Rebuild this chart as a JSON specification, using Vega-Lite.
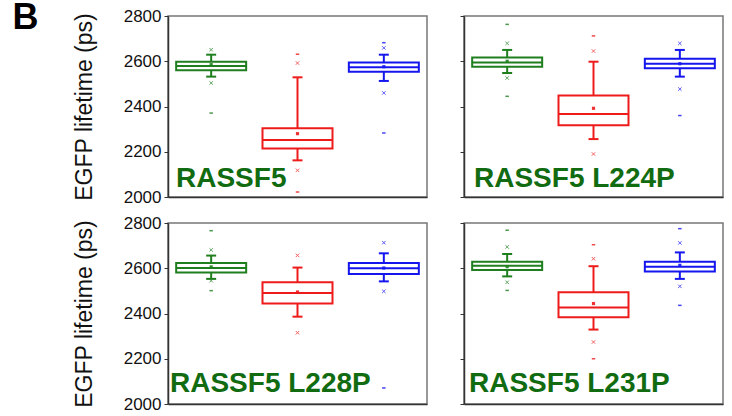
{
  "$schema": "https://vega.github.io/schema/vega-lite/v6.json",
  "background": "white",
  "padding": {"left": 12, "top": 0, "right": 5, "bottom": 5},
  "config": {
    "font": "Liberation Sans",
    "view": {"stroke": "#777", "strokeWidth": 1.5},
    "tick": {"opacity": 1},
    "axisY": {"domainColor": "#333", "tickColor": "#333", "tickSize": 4, "grid": false, "labelFontSize": 17, "labelColor": "#111", "labelPadding": 3, "titleFontSize": 23, "titleFontWeight": "normal", "titleColor": "#111", "titlePadding": 27, "domainWidth": 1.5},
    "axisX": {"domainColor": "#333", "domainWidth": 1.5, "ticks": false, "labels": false, "title": null, "grid": false}
  },
  "title": {"text": "B", "anchor": "start", "frame": "bounds", "fontSize": 36, "fontWeight": "bold", "color": "#000", "offset": -31, "dx": -60},
  "datasets": {
    "boxes": [
      {"panel": "RASSF5", "group": "ctrl1", "lo": 2532, "q1": 2560, "median": 2579, "q3": 2598, "hi": 2629, "mean": 2585, "p1": 2504, "p99": 2651, "min": 2371, "max": null},
      {"panel": "RASSF5", "group": "test", "lo": 2162, "q1": 2214, "median": 2252, "q3": 2304, "hi": 2529, "mean": 2280, "p1": 2118, "p99": 2592, "min": 2022, "max": 2631},
      {"panel": "RASSF5", "group": "ctrl2", "lo": 2513, "q1": 2554, "median": 2573, "q3": 2595, "hi": 2629, "mean": 2576, "p1": 2460, "p99": 2659, "min": 2283, "max": 2682},
      {"panel": "RASSF5 L224P", "group": "ctrl1", "lo": 2548, "q1": 2576, "median": 2594, "q3": 2617, "hi": 2650, "mean": 2600, "p1": 2526, "p99": 2679, "min": 2445, "max": 2763},
      {"panel": "RASSF5 L224P", "group": "test", "lo": 2256, "q1": 2317, "median": 2367, "q3": 2449, "hi": 2598, "mean": 2392, "p1": 2190, "p99": 2645, "min": null, "max": 2712},
      {"panel": "RASSF5 L224P", "group": "ctrl2", "lo": 2532, "q1": 2569, "median": 2589, "q3": 2611, "hi": 2650, "mean": 2589, "p1": 2477, "p99": 2679, "min": 2360, "max": null},
      {"panel": "RASSF5 L228P", "group": "ctrl1", "lo": 2553, "q1": 2581, "median": 2601, "q3": 2623, "hi": 2656, "mean": 2606, "p1": 2545, "p99": 2681, "min": 2501, "max": 2766},
      {"panel": "RASSF5 L228P", "group": "test", "lo": 2386, "q1": 2444, "median": 2491, "q3": 2538, "hi": 2603, "mean": 2495, "p1": 2315, "p99": 2657, "min": null, "max": null},
      {"panel": "RASSF5 L228P", "group": "ctrl2", "lo": 2542, "q1": 2575, "median": 2600, "q3": 2623, "hi": 2666, "mean": 2601, "p1": 2498, "p99": 2713, "min": 2071, "max": null},
      {"panel": "RASSF5 L231P", "group": "ctrl1", "lo": 2564, "q1": 2592, "median": 2611, "q3": 2629, "hi": 2663, "mean": 2607, "p1": 2538, "p99": 2694, "min": 2502, "max": 2768},
      {"panel": "RASSF5 L231P", "group": "test", "lo": 2329, "q1": 2383, "median": 2427, "q3": 2494, "hi": 2609, "mean": 2444, "p1": 2274, "p99": 2642, "min": 2200, "max": 2704},
      {"panel": "RASSF5 L231P", "group": "ctrl2", "lo": 2553, "q1": 2586, "median": 2607, "q3": 2629, "hi": 2670, "mean": 2613, "p1": 2520, "p99": 2712, "min": 2436, "max": 2775}
    ],
    "labels": [
      {"panel": "RASSF5", "label": "RASSF5"},
      {"panel": "RASSF5 L224P", "label": "RASSF5 L224P"},
      {"panel": "RASSF5 L228P", "label": "RASSF5 L228P"},
      {"panel": "RASSF5 L231P", "label": "RASSF5 L231P"}
    ]
  },
  "concat": [
    {
      "width": 259, "height": 181,
      "layer": [
        {"data": {"name": "boxes"}, "transform": [{"filter": "datum.panel == 'RASSF5'"}],
         "layer": [
          {"mark": {"type": "rule", "strokeWidth": 2}, "encoding": {"x": {"field": "group", "type": "nominal", "sort": ["ctrl1", "test", "ctrl2"], "scale": {"paddingInner": 0, "paddingOuter": 0}}, "y": {"field": "lo", "type": "quantitative", "title": "EGFP lifetime (ps)", "scale": {"domain": [2000, 2800], "nice": false, "zero": false}, "axis": {"values": [2000, 2100, 2200, 2300, 2400, 2500, 2600, 2700, 2800], "labelExpr": "datum.value % 200 == 0 ? datum.value : ''"}}, "y2": {"field": "hi"}, "color": {"field": "group", "type": "nominal", "scale": {"domain": ["ctrl1", "test", "ctrl2"], "range": ["#1f7f1f", "#ee1b1b", "#1515ee"]}, "legend": null}}},
          {"mark": {"type": "bar", "fill": "white", "strokeWidth": 2, "width": 70}, "encoding": {"x": {"field": "group", "type": "nominal", "sort": ["ctrl1", "test", "ctrl2"]}, "y": {"field": "q1", "type": "quantitative", "title": "EGFP lifetime (ps)"}, "y2": {"field": "q3"}, "stroke": {"field": "group", "type": "nominal", "scale": {"domain": ["ctrl1", "test", "ctrl2"], "range": ["#1f7f1f", "#ee1b1b", "#1515ee"]}, "legend": null}}},
          {"mark": {"type": "tick", "thickness": 2, "size": 70, "opacity": 1}, "encoding": {"x": {"field": "group", "type": "nominal", "sort": ["ctrl1", "test", "ctrl2"]}, "y": {"field": "median", "type": "quantitative", "title": "EGFP lifetime (ps)"}, "color": {"field": "group", "type": "nominal", "legend": null}}},
          {"mark": {"type": "tick", "thickness": 2, "size": 10, "opacity": 1}, "encoding": {"x": {"field": "group", "type": "nominal", "sort": ["ctrl1", "test", "ctrl2"]}, "y": {"field": "lo", "type": "quantitative", "title": "EGFP lifetime (ps)"}, "color": {"field": "group", "type": "nominal", "legend": null}}},
          {"mark": {"type": "tick", "thickness": 2, "size": 10, "opacity": 1}, "encoding": {"x": {"field": "group", "type": "nominal", "sort": ["ctrl1", "test", "ctrl2"]}, "y": {"field": "hi", "type": "quantitative", "title": "EGFP lifetime (ps)"}, "color": {"field": "group", "type": "nominal", "legend": null}}},
          {"mark": {"type": "point", "shape": "square", "filled": true, "size": 10, "opacity": 0.9}, "encoding": {"x": {"field": "group", "type": "nominal", "sort": ["ctrl1", "test", "ctrl2"]}, "y": {"field": "mean", "type": "quantitative", "title": "EGFP lifetime (ps)"}, "color": {"field": "group", "type": "nominal", "legend": null}}},
          {"mark": {"type": "point", "shape": "M-1,-1L1,1M-1,1L1,-1", "size": 12, "strokeWidth": 1, "opacity": 0.7}, "encoding": {"x": {"field": "group", "type": "nominal", "sort": ["ctrl1", "test", "ctrl2"]}, "y": {"field": "p1", "type": "quantitative", "title": "EGFP lifetime (ps)"}, "color": {"field": "group", "type": "nominal", "legend": null}}},
          {"mark": {"type": "point", "shape": "M-1,-1L1,1M-1,1L1,-1", "size": 12, "strokeWidth": 1, "opacity": 0.7}, "encoding": {"x": {"field": "group", "type": "nominal", "sort": ["ctrl1", "test", "ctrl2"]}, "y": {"field": "p99", "type": "quantitative", "title": "EGFP lifetime (ps)"}, "color": {"field": "group", "type": "nominal", "legend": null}}},
          {"mark": {"type": "point", "shape": "stroke", "size": 12, "strokeWidth": 1.5, "opacity": 0.8}, "encoding": {"x": {"field": "group", "type": "nominal", "sort": ["ctrl1", "test", "ctrl2"]}, "y": {"field": "min", "type": "quantitative", "title": "EGFP lifetime (ps)"}, "color": {"field": "group", "type": "nominal", "legend": null}}},
          {"mark": {"type": "point", "shape": "stroke", "size": 12, "strokeWidth": 1.5, "opacity": 0.8}, "encoding": {"x": {"field": "group", "type": "nominal", "sort": ["ctrl1", "test", "ctrl2"]}, "y": {"field": "max", "type": "quantitative", "title": "EGFP lifetime (ps)"}, "color": {"field": "group", "type": "nominal", "legend": null}}}
         ]},
        {"data": {"name": "labels"}, "transform": [{"filter": "datum.panel == 'RASSF5'"}],
         "mark": {"type": "text", "align": "left", "baseline": "alphabetic", "fontSize": 28, "fontWeight": "bold", "color": "#116b11", "dx": 8},
         "encoding": {"x": {"datum": "ctrl1", "bandPosition": 0}, "y": {"datum": 2045, "title": "EGFP lifetime (ps)"}, "text": {"field": "label"}}}
      ]
    },
    {
      "width": 259, "height": 181,
      "layer": [
        {"data": {"name": "boxes"}, "transform": [{"filter": "datum.panel == 'RASSF5 L224P'"}],
         "layer": [
          {"mark": {"type": "rule", "strokeWidth": 2}, "encoding": {"x": {"field": "group", "type": "nominal", "sort": ["ctrl1", "test", "ctrl2"], "scale": {"paddingInner": 0, "paddingOuter": 0}}, "y": {"field": "lo", "type": "quantitative", "title": null, "scale": {"domain": [2000, 2800], "nice": false, "zero": false}, "axis": {"values": [2000, 2100, 2200, 2300, 2400, 2500, 2600, 2700, 2800], "labels": false}}, "y2": {"field": "hi"}, "color": {"field": "group", "type": "nominal", "scale": {"domain": ["ctrl1", "test", "ctrl2"], "range": ["#1f7f1f", "#ee1b1b", "#1515ee"]}, "legend": null}}},
          {"mark": {"type": "bar", "fill": "white", "strokeWidth": 2, "width": 70}, "encoding": {"x": {"field": "group", "type": "nominal", "sort": ["ctrl1", "test", "ctrl2"]}, "y": {"field": "q1", "type": "quantitative", "title": null}, "y2": {"field": "q3"}, "stroke": {"field": "group", "type": "nominal", "scale": {"domain": ["ctrl1", "test", "ctrl2"], "range": ["#1f7f1f", "#ee1b1b", "#1515ee"]}, "legend": null}}},
          {"mark": {"type": "tick", "thickness": 2, "size": 70, "opacity": 1}, "encoding": {"x": {"field": "group", "type": "nominal", "sort": ["ctrl1", "test", "ctrl2"]}, "y": {"field": "median", "type": "quantitative", "title": null}, "color": {"field": "group", "type": "nominal", "legend": null}}},
          {"mark": {"type": "tick", "thickness": 2, "size": 10, "opacity": 1}, "encoding": {"x": {"field": "group", "type": "nominal", "sort": ["ctrl1", "test", "ctrl2"]}, "y": {"field": "lo", "type": "quantitative", "title": null}, "color": {"field": "group", "type": "nominal", "legend": null}}},
          {"mark": {"type": "tick", "thickness": 2, "size": 10, "opacity": 1}, "encoding": {"x": {"field": "group", "type": "nominal", "sort": ["ctrl1", "test", "ctrl2"]}, "y": {"field": "hi", "type": "quantitative", "title": null}, "color": {"field": "group", "type": "nominal", "legend": null}}},
          {"mark": {"type": "point", "shape": "square", "filled": true, "size": 10, "opacity": 0.9}, "encoding": {"x": {"field": "group", "type": "nominal", "sort": ["ctrl1", "test", "ctrl2"]}, "y": {"field": "mean", "type": "quantitative", "title": null}, "color": {"field": "group", "type": "nominal", "legend": null}}},
          {"mark": {"type": "point", "shape": "M-1,-1L1,1M-1,1L1,-1", "size": 12, "strokeWidth": 1, "opacity": 0.7}, "encoding": {"x": {"field": "group", "type": "nominal", "sort": ["ctrl1", "test", "ctrl2"]}, "y": {"field": "p1", "type": "quantitative", "title": null}, "color": {"field": "group", "type": "nominal", "legend": null}}},
          {"mark": {"type": "point", "shape": "M-1,-1L1,1M-1,1L1,-1", "size": 12, "strokeWidth": 1, "opacity": 0.7}, "encoding": {"x": {"field": "group", "type": "nominal", "sort": ["ctrl1", "test", "ctrl2"]}, "y": {"field": "p99", "type": "quantitative", "title": null}, "color": {"field": "group", "type": "nominal", "legend": null}}},
          {"mark": {"type": "point", "shape": "stroke", "size": 12, "strokeWidth": 1.5, "opacity": 0.8}, "encoding": {"x": {"field": "group", "type": "nominal", "sort": ["ctrl1", "test", "ctrl2"]}, "y": {"field": "min", "type": "quantitative", "title": null}, "color": {"field": "group", "type": "nominal", "legend": null}}},
          {"mark": {"type": "point", "shape": "stroke", "size": 12, "strokeWidth": 1.5, "opacity": 0.8}, "encoding": {"x": {"field": "group", "type": "nominal", "sort": ["ctrl1", "test", "ctrl2"]}, "y": {"field": "max", "type": "quantitative", "title": null}, "color": {"field": "group", "type": "nominal", "legend": null}}}
         ]},
        {"data": {"name": "labels"}, "transform": [{"filter": "datum.panel == 'RASSF5 L224P'"}],
         "mark": {"type": "text", "align": "left", "baseline": "alphabetic", "fontSize": 28, "fontWeight": "bold", "color": "#116b11", "dx": 10},
         "encoding": {"x": {"datum": "ctrl1", "bandPosition": 0}, "y": {"datum": 2045, "title": null}, "text": {"field": "label"}}}
      ]
    },
    {
      "width": 259, "height": 181,
      "layer": [
        {"data": {"name": "boxes"}, "transform": [{"filter": "datum.panel == 'RASSF5 L228P'"}],
         "layer": [
          {"mark": {"type": "rule", "strokeWidth": 2}, "encoding": {"x": {"field": "group", "type": "nominal", "sort": ["ctrl1", "test", "ctrl2"], "scale": {"paddingInner": 0, "paddingOuter": 0}}, "y": {"field": "lo", "type": "quantitative", "title": "EGFP lifetime (ps)", "scale": {"domain": [2000, 2800], "nice": false, "zero": false}, "axis": {"values": [2000, 2100, 2200, 2300, 2400, 2500, 2600, 2700, 2800], "labelExpr": "datum.value % 200 == 0 ? datum.value : ''"}}, "y2": {"field": "hi"}, "color": {"field": "group", "type": "nominal", "scale": {"domain": ["ctrl1", "test", "ctrl2"], "range": ["#1f7f1f", "#ee1b1b", "#1515ee"]}, "legend": null}}},
          {"mark": {"type": "bar", "fill": "white", "strokeWidth": 2, "width": 70}, "encoding": {"x": {"field": "group", "type": "nominal", "sort": ["ctrl1", "test", "ctrl2"]}, "y": {"field": "q1", "type": "quantitative", "title": "EGFP lifetime (ps)"}, "y2": {"field": "q3"}, "stroke": {"field": "group", "type": "nominal", "scale": {"domain": ["ctrl1", "test", "ctrl2"], "range": ["#1f7f1f", "#ee1b1b", "#1515ee"]}, "legend": null}}},
          {"mark": {"type": "tick", "thickness": 2, "size": 70, "opacity": 1}, "encoding": {"x": {"field": "group", "type": "nominal", "sort": ["ctrl1", "test", "ctrl2"]}, "y": {"field": "median", "type": "quantitative", "title": "EGFP lifetime (ps)"}, "color": {"field": "group", "type": "nominal", "legend": null}}},
          {"mark": {"type": "tick", "thickness": 2, "size": 10, "opacity": 1}, "encoding": {"x": {"field": "group", "type": "nominal", "sort": ["ctrl1", "test", "ctrl2"]}, "y": {"field": "lo", "type": "quantitative", "title": "EGFP lifetime (ps)"}, "color": {"field": "group", "type": "nominal", "legend": null}}},
          {"mark": {"type": "tick", "thickness": 2, "size": 10, "opacity": 1}, "encoding": {"x": {"field": "group", "type": "nominal", "sort": ["ctrl1", "test", "ctrl2"]}, "y": {"field": "hi", "type": "quantitative", "title": "EGFP lifetime (ps)"}, "color": {"field": "group", "type": "nominal", "legend": null}}},
          {"mark": {"type": "point", "shape": "square", "filled": true, "size": 10, "opacity": 0.9}, "encoding": {"x": {"field": "group", "type": "nominal", "sort": ["ctrl1", "test", "ctrl2"]}, "y": {"field": "mean", "type": "quantitative", "title": "EGFP lifetime (ps)"}, "color": {"field": "group", "type": "nominal", "legend": null}}},
          {"mark": {"type": "point", "shape": "M-1,-1L1,1M-1,1L1,-1", "size": 12, "strokeWidth": 1, "opacity": 0.7}, "encoding": {"x": {"field": "group", "type": "nominal", "sort": ["ctrl1", "test", "ctrl2"]}, "y": {"field": "p1", "type": "quantitative", "title": "EGFP lifetime (ps)"}, "color": {"field": "group", "type": "nominal", "legend": null}}},
          {"mark": {"type": "point", "shape": "M-1,-1L1,1M-1,1L1,-1", "size": 12, "strokeWidth": 1, "opacity": 0.7}, "encoding": {"x": {"field": "group", "type": "nominal", "sort": ["ctrl1", "test", "ctrl2"]}, "y": {"field": "p99", "type": "quantitative", "title": "EGFP lifetime (ps)"}, "color": {"field": "group", "type": "nominal", "legend": null}}},
          {"mark": {"type": "point", "shape": "stroke", "size": 12, "strokeWidth": 1.5, "opacity": 0.8}, "encoding": {"x": {"field": "group", "type": "nominal", "sort": ["ctrl1", "test", "ctrl2"]}, "y": {"field": "min", "type": "quantitative", "title": "EGFP lifetime (ps)"}, "color": {"field": "group", "type": "nominal", "legend": null}}},
          {"mark": {"type": "point", "shape": "stroke", "size": 12, "strokeWidth": 1.5, "opacity": 0.8}, "encoding": {"x": {"field": "group", "type": "nominal", "sort": ["ctrl1", "test", "ctrl2"]}, "y": {"field": "max", "type": "quantitative", "title": "EGFP lifetime (ps)"}, "color": {"field": "group", "type": "nominal", "legend": null}}}
         ]},
        {"data": {"name": "labels"}, "transform": [{"filter": "datum.panel == 'RASSF5 L228P'"}],
         "mark": {"type": "text", "align": "left", "baseline": "alphabetic", "fontSize": 28, "fontWeight": "bold", "color": "#116b11", "dx": 2},
         "encoding": {"x": {"datum": "ctrl1", "bandPosition": 0}, "y": {"datum": 2053, "title": "EGFP lifetime (ps)"}, "text": {"field": "label"}}}
      ]
    },
    {
      "width": 259, "height": 181,
      "layer": [
        {"data": {"name": "boxes"}, "transform": [{"filter": "datum.panel == 'RASSF5 L231P'"}],
         "layer": [
          {"mark": {"type": "rule", "strokeWidth": 2}, "encoding": {"x": {"field": "group", "type": "nominal", "sort": ["ctrl1", "test", "ctrl2"], "scale": {"paddingInner": 0, "paddingOuter": 0}}, "y": {"field": "lo", "type": "quantitative", "title": null, "scale": {"domain": [2000, 2800], "nice": false, "zero": false}, "axis": {"values": [2000, 2100, 2200, 2300, 2400, 2500, 2600, 2700, 2800], "labels": false}}, "y2": {"field": "hi"}, "color": {"field": "group", "type": "nominal", "scale": {"domain": ["ctrl1", "test", "ctrl2"], "range": ["#1f7f1f", "#ee1b1b", "#1515ee"]}, "legend": null}}},
          {"mark": {"type": "bar", "fill": "white", "strokeWidth": 2, "width": 70}, "encoding": {"x": {"field": "group", "type": "nominal", "sort": ["ctrl1", "test", "ctrl2"]}, "y": {"field": "q1", "type": "quantitative", "title": null}, "y2": {"field": "q3"}, "stroke": {"field": "group", "type": "nominal", "scale": {"domain": ["ctrl1", "test", "ctrl2"], "range": ["#1f7f1f", "#ee1b1b", "#1515ee"]}, "legend": null}}},
          {"mark": {"type": "tick", "thickness": 2, "size": 70, "opacity": 1}, "encoding": {"x": {"field": "group", "type": "nominal", "sort": ["ctrl1", "test", "ctrl2"]}, "y": {"field": "median", "type": "quantitative", "title": null}, "color": {"field": "group", "type": "nominal", "legend": null}}},
          {"mark": {"type": "tick", "thickness": 2, "size": 10, "opacity": 1}, "encoding": {"x": {"field": "group", "type": "nominal", "sort": ["ctrl1", "test", "ctrl2"]}, "y": {"field": "lo", "type": "quantitative", "title": null}, "color": {"field": "group", "type": "nominal", "legend": null}}},
          {"mark": {"type": "tick", "thickness": 2, "size": 10, "opacity": 1}, "encoding": {"x": {"field": "group", "type": "nominal", "sort": ["ctrl1", "test", "ctrl2"]}, "y": {"field": "hi", "type": "quantitative", "title": null}, "color": {"field": "group", "type": "nominal", "legend": null}}},
          {"mark": {"type": "point", "shape": "square", "filled": true, "size": 10, "opacity": 0.9}, "encoding": {"x": {"field": "group", "type": "nominal", "sort": ["ctrl1", "test", "ctrl2"]}, "y": {"field": "mean", "type": "quantitative", "title": null}, "color": {"field": "group", "type": "nominal", "legend": null}}},
          {"mark": {"type": "point", "shape": "M-1,-1L1,1M-1,1L1,-1", "size": 12, "strokeWidth": 1, "opacity": 0.7}, "encoding": {"x": {"field": "group", "type": "nominal", "sort": ["ctrl1", "test", "ctrl2"]}, "y": {"field": "p1", "type": "quantitative", "title": null}, "color": {"field": "group", "type": "nominal", "legend": null}}},
          {"mark": {"type": "point", "shape": "M-1,-1L1,1M-1,1L1,-1", "size": 12, "strokeWidth": 1, "opacity": 0.7}, "encoding": {"x": {"field": "group", "type": "nominal", "sort": ["ctrl1", "test", "ctrl2"]}, "y": {"field": "p99", "type": "quantitative", "title": null}, "color": {"field": "group", "type": "nominal", "legend": null}}},
          {"mark": {"type": "point", "shape": "stroke", "size": 12, "strokeWidth": 1.5, "opacity": 0.8}, "encoding": {"x": {"field": "group", "type": "nominal", "sort": ["ctrl1", "test", "ctrl2"]}, "y": {"field": "min", "type": "quantitative", "title": null}, "color": {"field": "group", "type": "nominal", "legend": null}}},
          {"mark": {"type": "point", "shape": "stroke", "size": 12, "strokeWidth": 1.5, "opacity": 0.8}, "encoding": {"x": {"field": "group", "type": "nominal", "sort": ["ctrl1", "test", "ctrl2"]}, "y": {"field": "max", "type": "quantitative", "title": null}, "color": {"field": "group", "type": "nominal", "legend": null}}}
         ]},
        {"data": {"name": "labels"}, "transform": [{"filter": "datum.panel == 'RASSF5 L231P'"}],
         "mark": {"type": "text", "align": "left", "baseline": "alphabetic", "fontSize": 28, "fontWeight": "bold", "color": "#116b11", "dx": 5},
         "encoding": {"x": {"datum": "ctrl1", "bandPosition": 0}, "y": {"datum": 2053, "title": null}, "text": {"field": "label"}}}
      ]
    }
  ],
  "columns": 2,
  "align": "each",
  "spacing": {"row": 7, "column": 30}
}
